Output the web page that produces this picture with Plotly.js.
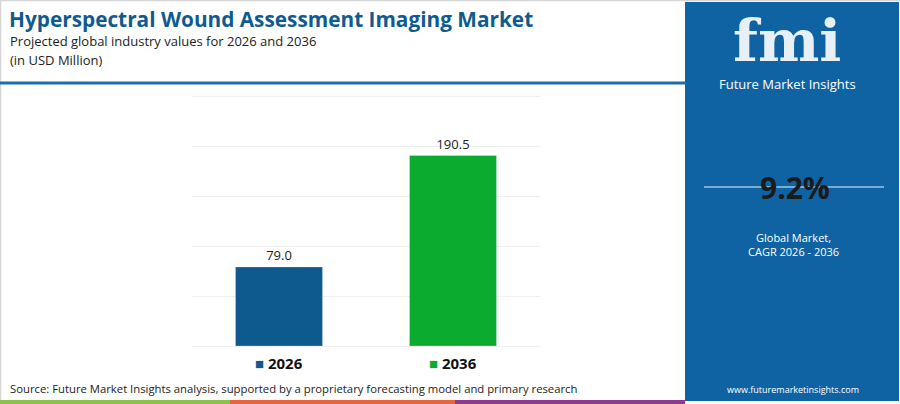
<!DOCTYPE html>
<html>
<head>
<meta charset="utf-8">
<script src="https://cdn.plot.ly/plotly-3.0.1.min.js"></script>
<style>
  html, body { margin: 0; padding: 0; background: #ffffff; }
  #chart { width: 900px; height: 404px; }
</style>
</head>
<body>
<div id="chart"></div>
<script>
// Market values (USD Million)
const years = ["2026", "2036"];
const values = [79.0, 190.5];
const barColors = ["#0e5a8e", "#0aab2f"];
const gridTicks = [0, 50, 100, 150, 200, 250];

const cagrText = "9.2%";

const W = 900, H = 404;
// pixel -> paper helpers
const px = (x) => x / W;
const py = (y) => 1 - y / H;

const panelBlue = "#1063a3";

const barTrace = {
  type: "bar",
  x: years,
  y: values,
  width: 0.5,
  marker: {
    color: barColors,
    line: { color: "rgba(255,255,255,0.25)", width: 1 },
  },
  text: values.map((v) => v.toFixed(1)),
  textposition: "outside",
  cliponaxis: false,
  textfont: { family: "Open Sans", size: 13, color: "#222222" },
  hoverinfo: "skip",
  showlegend: false,
};

// legend items drawn under each bar (x given as category index)
const legendNotes = years.map((yr, i) => ({
  x: i,
  xref: "x",
  y: py(363),
  yref: "paper",
  text: `<span style="color:${barColors[i]}">■</span> <b>${yr}</b>`,
  showarrow: false,
  font: { family: "Open Sans", size: 15, color: "#111111" },
  xanchor: "center",
  yanchor: "middle",
}));

const layout = {
  width: W,
  height: H,
  margin: { t: 0, l: 0, r: 0, b: 0 },
  paper_bgcolor: "#ffffff",
  plot_bgcolor: "#ffffff",
  showlegend: false,
  title: {
    text: "<b>Hyperspectral Wound Assessment Imaging Market</b>",
    font: { family: "Open Sans", size: 20.8, color: "#0f5b91" },
    x: px(9),
    xanchor: "left",
    xref: "paper",
    y: py(20),
    yanchor: "middle",
    yref: "paper",
  },
  xaxis: {
    type: "category",
    domain: [px(192), px(540)],
    range: [-0.5, 1.5],
    showticklabels: false,
    showgrid: false,
    zeroline: false,
    fixedrange: true,
  },
  yaxis: {
    // 1.5 units of slack each side so the 0 and 250 gridlines are not clipped
    domain: [py(347.5), py(94.5)],
    range: [-1.5, 251.5],
    tickvals: gridTicks,
    showticklabels: false,
    showgrid: true,
    gridcolor: "#efefef",
    gridwidth: 1,
    zeroline: false,
    fixedrange: true,
  },
  shapes: [
    // outer border
    { type: "line", xref: "paper", yref: "paper", x0: 0, x1: 1, y0: py(0.5), y1: py(0.5), line: { color: "#d6d6d6", width: 1.5 } },
    { type: "line", xref: "paper", yref: "paper", x0: px(0.5), x1: px(0.5), y0: 0, y1: 1, line: { color: "#d6d6d6", width: 1.5 } },
    // header rule
    { type: "line", xref: "paper", yref: "paper", x0: 0, x1: px(686), y0: py(83), y1: py(83), line: { color: "#1d6dab", width: 3 } },
    // right panel
    { type: "rect", xref: "paper", yref: "paper", x0: px(685), x1: px(899), y0: py(401), y1: py(2), fillcolor: panelBlue, line: { width: 0 }, layer: "below" },
    // cagr rule
    { type: "line", xref: "paper", yref: "paper", x0: px(704), x1: px(884), y0: py(187), y1: py(187), line: { color: "#9cc6e6", width: 1.5 } },
    // bottom colour strip
    { type: "rect", xref: "paper", yref: "paper", x0: 0, x1: px(230), y0: 0, y1: py(400), fillcolor: "#8bc34a", line: { width: 0 } },
    { type: "rect", xref: "paper", yref: "paper", x0: px(230), x1: px(455), y0: 0, y1: py(400), fillcolor: "#e8643c", line: { width: 0 } },
    { type: "rect", xref: "paper", yref: "paper", x0: px(455), x1: px(685), y0: 0, y1: py(400), fillcolor: "#8e3a91", line: { width: 0 } },
  ],
  annotations: [
    {
      x: px(8), y: py(41), xref: "paper", yref: "paper", xanchor: "left", yanchor: "middle",
      text: "Projected global industry values for 2026 and 2036",
      showarrow: false, font: { family: "Open Sans", size: 13, color: "#222222" },
    },
    {
      x: px(8), y: py(60), xref: "paper", yref: "paper", xanchor: "left", yanchor: "middle",
      text: "(in USD Million)",
      showarrow: false, font: { family: "Open Sans", size: 13, color: "#222222" },
    },
    {
      x: px(8), y: py(388), xref: "paper", yref: "paper", xanchor: "left", yanchor: "middle",
      text: "Source: Future Market Insights analysis, supported by a proprietary forecasting model and primary research",
      showarrow: false, font: { family: "Open Sans", size: 11.3, color: "#222222" },
    },
    // logo
    {
      x: px(787), y: py(41), xref: "paper", yref: "paper", xanchor: "center", yanchor: "middle",
      text: "<b>fmi</b>",
      showarrow: false, font: { family: "DejaVu Serif", size: 58, color: "rgba(255,255,255,0.9)" },
    },
    {
      x: px(787), y: py(84), xref: "paper", yref: "paper", xanchor: "center", yanchor: "middle",
      text: "Future Market Insights",
      showarrow: false, font: { family: "Open Sans", size: 13, color: "#ffffff" },
    },
    {
      x: px(795), y: py(187), xref: "paper", yref: "paper", xanchor: "center", yanchor: "middle",
      text: "<b>" + cagrText + "</b>",
      showarrow: false, font: { family: "Open Sans", size: 30, color: "#1a1a1a" },
    },
    {
      x: px(793), y: py(244), xref: "paper", yref: "paper", xanchor: "center", yanchor: "middle",
      text: "Global Market,<br>CAGR 2026 - 2036",
      showarrow: false, font: { family: "Open Sans", size: 11, color: "#ffffff" },
    },
    {
      x: px(793), y: py(389), xref: "paper", yref: "paper", xanchor: "center", yanchor: "middle",
      text: "www.futuremarketinsights.com",
      showarrow: false, font: { family: "Open Sans", size: 9, color: "#ffffff" },
    },
    ...legendNotes,
  ],
};

Plotly.newPlot("chart", [barTrace], layout, { displayModeBar: false, staticPlot: true });
</script>
</body>
</html>
